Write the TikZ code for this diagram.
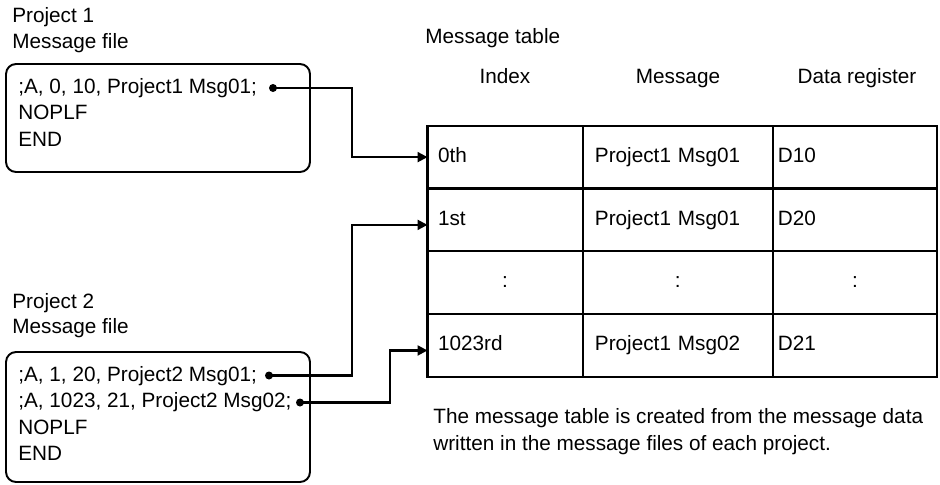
\documentclass[tikz,border=0pt]{standalone}
\usepackage{fontspec}
\setmainfont{Liberation Sans}
\usetikzlibrary{arrows.meta,positioning}

\begin{document}
\begin{tikzpicture}[
      x=0.02cm, y=-0.02cm,
      every node/.style={font=\fontsize{11.8}{14}\selectfont, inner sep=0pt, text height=8.6pt, text depth=2.6pt},
      txt/.style={anchor=west},
      filebox/.style={draw, line width=1.1pt, rounded corners=0.2cm, minimum width=6.08cm},
      dot/.style={circle, fill, minimum size=0.16cm, text height=0pt, text depth=0pt},
      cell/.style={draw, line width=1.2pt, outer sep=0pt, minimum height=1.256cm, align=left},
      idxcell/.style={cell, text width=2.684cm, inner xsep=0.21cm},
      msgcell/.style={cell, text width=3.308cm, inner xsep=0.246cm},
      regcell/.style={cell, text width=3.084cm, inner xsep=0.106cm},
      conn/.style={line width=1.2pt, -{Triangle[length=0.2cm,width=0.2cm]}}
    ]
      \useasboundingbox (0,0) rectangle (940,484);

      % project 1
      \node[txt] (p1) at (12,17) {Project 1};
      \node[txt] (p1f) at (12,43) {Message file};
      \node[filebox, minimum height=2.16cm] (file1) at (158,118) {};
      \node[txt] (l11) at (18,88) {;A, 0, 10, Project1 Msg01;};
      \node[txt] (l12) at (18,114.7) {NOPLF};
      \node[txt] (l13) at (18,141.3) {END};
      \node[dot] (d1) at (273,88) {};

      % project 2
      \node[txt] (p2) at (12,303) {Project 2};
      \node[txt] (p2f) at (12,328) {Message file};
      \node[filebox, minimum height=2.6cm] (file2) at (158,417) {};
      \node[txt] (l21) at (18,376) {;A, 1, 20, Project2 Msg01;};
      \node[txt] (l22) at (18,402.5) {;A, 1023, 21, Project2 Msg02;};
      \node[txt] (l23) at (18,429) {NOPLF};
      \node[txt] (l24) at (18,455.5) {END};
      \node[dot] (d2) at (269,375.5) {};
      \node[dot] (d3) at (300,402.5) {};

      % message table
      \node[txt] (title) at (425,38) {Message table};
      \node (hidx) at (505,78) {Index};
      \node (hmsg) at (678,78) {Message};
      \node (hreg) at (857,78) {Data register};

      \node[idxcell] (c00) at (505.1,157.1) {0th};
      \node[msgcell, right=0pt of c00] (c01) {Project1 Msg01};
      \node[regcell, right=0pt of c01] (c02) {D10};
      \node[idxcell, below=0pt of c00] (c10) {1st};
      \node[msgcell, right=0pt of c10] (c11) {Project1 Msg01};
      \node[regcell, right=0pt of c11] (c12) {D20};
      \node[idxcell, align=center, below=0pt of c10] (c20) {:};
      \node[msgcell, align=center, right=0pt of c20] (c21) {:};
      \node[regcell, align=center, right=0pt of c21] (c22) {:};
      \node[idxcell, below=0pt of c20] (c30) {1023rd};
      \node[msgcell, right=0pt of c30] (c31) {Project1 Msg02};
      \node[regcell, right=0pt of c31] (c32) {D21};

      \node[txt] (note1) at (433,418) {The message table is created from the message data};
      \node[txt] (note2) at (433,445) {written in the message files of each project.};

      % connectors
      \draw[conn] (d1.center) -- (352,88) |- (c00.west);
      \draw[conn] (d2.center) -- (352,375.5) |- ([yshift=-0.1cm]c10.west);
      \draw[conn] (d3.center) -- (390,402.5) |- ([yshift=-0.1cm]c30.west);
    \end{tikzpicture}
\end{document}
